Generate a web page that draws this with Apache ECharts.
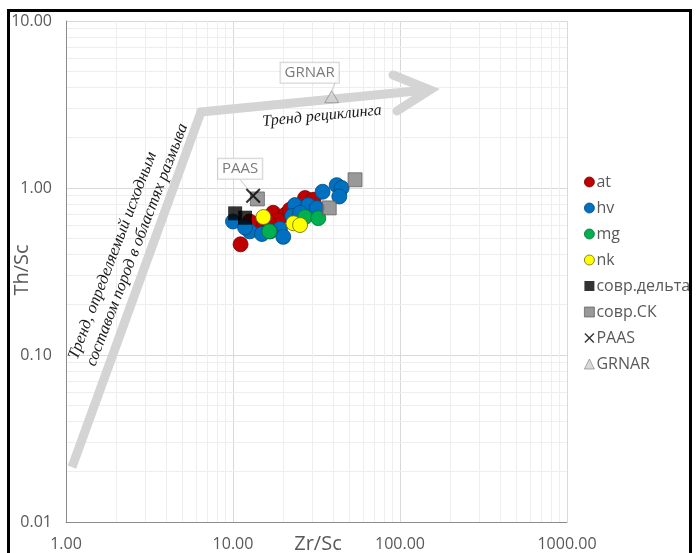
<!DOCTYPE html>
<html>
<head>
<meta charset="utf-8">
<script src="https://cdn.jsdelivr.net/npm/echarts@6/dist/echarts.min.js"></script>
<style>
  html, body { margin: 0; padding: 0; background: #fff; }
  #chart { width: 696px; height: 553px; }
</style>
</head>
<body>
<div id="chart"></div>
<script>
// Th/Sc vs Zr/Sc discrimination plot (log–log)

// Sample groups: [Zr/Sc, Th/Sc]
const atData = [
  [11.1, 0.46], [17.4, 0.71], [20.5, 0.69], [27.0, 0.87], [30.3, 0.85],
  [18.6, 0.64], [13.5, 0.60], [14.9, 0.64], [21.9, 0.74], [16.2, 0.63], [12.6, 0.63]
];
const hvData = [
  [10.0, 0.63], [12.6, 0.55], [14.9, 0.53], [19.1, 0.57], [20.0, 0.51],
  [23.5, 0.79], [28.2, 0.79], [31.7, 0.76], [34.4, 0.95], [41.8, 1.04],
  [44.7, 1.00], [43.3, 0.89], [11.8, 0.58], [16.7, 0.55], [22.6, 0.68], [25.2, 0.71]
];
const mgData = [[16.5, 0.55], [27.0, 0.67], [32.4, 0.66]];
const nkData = [[15.2, 0.67], [23.0, 0.615], [25.2, 0.60]];
const deltaData = [[10.3, 0.705], [11.8, 0.664]];
const skData = [[14.0, 0.86], [37.7, 0.76], [53.8, 1.12]];
const paasData = [[13.2, 0.90]];
const grnarData = [[39.0, 3.52]];

// Trend arrows (data coordinates)
const trendPath = [[1.086, 0.0213], [6.43, 2.85], [149.0, 3.87]];
const trendHead = [[90.8, 4.75], [151.3, 3.87], [95.9, 2.89]];

// Axis extents and decade ticks
const xTicks = [1, 10, 100, 1000];
const yTicks = [0.01, 0.1, 1, 10];

// Minor grid values (2..9 within each decade)
const xMinor = [];
for (let i = 0; i < xTicks.length - 1; i++) for (let k = 2; k <= 9; k++) xMinor.push(xTicks[i] * k);
const yMinor = [];
for (let i = 0; i < yTicks.length - 1; i++) for (let k = 2; k <= 9; k++) yMinor.push(+(yTicks[i] * k).toPrecision(3));

const FONT = '"Open Sans", sans-serif';
const GREY_TXT = '#595959';
const ARROW = '#d4d4d4';

const chart = echarts.init(document.getElementById('chart'), null, { renderer: 'canvas' });

function circleSeries(name, data, color, border) {
  return {
    name, type: 'scatter', data, symbol: 'circle', symbolSize: 15, z: 4,
    itemStyle: { color, borderColor: border, borderWidth: 0.8, opacity: 1 }
  };
}

const crossPath = 'path://M0,2 L2,0 L10,8 L18,0 L20,2 L12,10 L20,18 L18,20 L10,12 L2,20 L0,18 L8,10 Z';

chart.setOption({
  backgroundColor: '#fff',
  animation: false,
  textStyle: { fontFamily: FONT },
  grid: { left: 66, top: 21, width: 501, height: 501, containLabel: false, outerBoundsMode: 'none' },
  xAxis: {
    type: 'log', logBase: 10, min: xTicks[0], max: xTicks[xTicks.length - 1],
    axisLine: { show: true, lineStyle: { color: '#8c8c8c', width: 1 } },
    axisTick: { show: false },
    axisLabel: { fontSize: 16, color: GREY_TXT, margin: 14, formatter: v => (+v).toFixed(2) },
    splitLine: { show: true, lineStyle: { color: '#d9d9d9', width: 1 } }
  },
  yAxis: {
    type: 'log', logBase: 10, min: yTicks[0], max: yTicks[yTicks.length - 1],
    axisLine: { show: true, lineStyle: { color: '#8c8c8c', width: 1 } },
    axisTick: { show: false },
    axisLabel: { fontSize: 16, color: GREY_TXT, margin: 14, formatter: v => (+v).toFixed(2) },
    splitLine: { show: true, lineStyle: { color: '#d9d9d9', width: 1 } }
  },
  legend: {
    orient: 'vertical', left: 579, top: 166,
    itemWidth: 10, itemHeight: 10, itemGap: 4,
    itemStyle: { borderWidth: 0.8 },
    textStyle: { fontSize: 16, color: GREY_TXT, fontFamily: FONT, padding: [0, 0, 0, -3], lineHeight: 22 },
    data: ['at', 'hv', 'mg', 'nk', 'совр.дельта', 'совр.СК', 'PAAS', 'GRNAR']
  },
  series: [
    {
      // minor grid lines
      name: '_grid', type: 'scatter', data: [[1, 0.01]], symbolSize: 0, silent: true, z: 0,
      markLine: {
        silent: true, symbol: 'none', z: 0, animation: false,
        label: { show: false },
        lineStyle: { color: '#eeeeee', width: 1, type: 'solid' },
        data: xMinor.map(v => ({ xAxis: v })).concat(yMinor.map(v => ({ yAxis: v })))
      }
    },
    {
      name: '_trend', type: 'line', data: trendPath, symbol: 'none', silent: true, z: 1,
      lineStyle: { color: ARROW, width: 9, cap: 'butt', join: 'miter' }
    },
    {
      name: '_head', type: 'line', data: trendHead, symbol: 'none', silent: true, z: 1,
      lineStyle: { color: ARROW, width: 9, cap: 'round', join: 'miter' }
    },
    circleSeries('at', atData, '#c00000', '#7a0000'),
    circleSeries('hv', hvData, '#0070c0', '#004a80'),
    circleSeries('mg', mgData, '#00b050', '#007535'),
    circleSeries('nk', nkData, '#ffff00', '#6b6b00'),
    {
      name: 'совр.дельта', type: 'scatter', data: deltaData, symbol: 'rect', symbolSize: 14, z: 5,
      itemStyle: { color: '#000000' }
    },
    {
      name: 'совр.СК', type: 'scatter', data: skData, symbol: 'rect', symbolSize: 14, z: 5,
      itemStyle: { color: '#7f7f7f', borderColor: '#505050', borderWidth: 0.8 }
    },
    {
      name: 'PAAS', type: 'scatter', data: paasData, symbol: crossPath, symbolSize: 15, z: 6,
      itemStyle: { color: '#000000' },
      label: {
        show: true, formatter: 'PAAS', position: 'inside',
        fontSize: 15, color: GREY_TXT, fontFamily: FONT,
        backgroundColor: '#ffffff', borderColor: '#c8c8c8', borderWidth: 1, padding: [3, 4, 2, 4]
      },
      labelLayout: { dx: -13, dy: -27 },
      labelLine: { show: true, lineStyle: { color: '#c8c8c8', width: 1 } }
    },
    {
      name: 'GRNAR', type: 'scatter', data: grnarData, symbol: 'triangle', symbolSize: [14, 12], z: 6,
      itemStyle: { color: '#d0d0d0', borderColor: '#7f7f7f', borderWidth: 0.8 },
      label: {
        show: true, formatter: 'GRNAR', position: 'inside',
        fontSize: 15, color: GREY_TXT, fontFamily: FONT,
        backgroundColor: '#ffffff', borderColor: '#c8c8c8', borderWidth: 1, padding: [3, 4, 2, 4]
      },
      labelLayout: { dx: -22, dy: -24 },
      labelLine: { show: true, lineStyle: { color: '#c8c8c8', width: 1 } }
    }
  ],
  graphic: [
    {
      type: 'rect', silent: true, z: 100,
      shape: { x: 8.5, y: 10.5, width: 682, height: 600 },
      style: { fill: 'none', stroke: '#000', lineWidth: 3 }
    },
    {
      // y axis title
      type: 'text', silent: true, z: 50,
      x: 22, y: 270, rotation: Math.PI / 2,
      style: {
        text: 'Th/Sc', fontFamily: FONT, fontSize: 20, fill: GREY_TXT,
        align: 'center', verticalAlign: 'middle'
      }
    },
    {
      // x axis title
      type: 'text', silent: true, z: 50,
      x: 318, y: 544,
      style: {
        text: 'Zr/Sc', fontFamily: FONT, fontSize: 20, fill: GREY_TXT,
        align: 'center', verticalAlign: 'middle'
      }
    },
    {
      type: 'text', silent: true, z: 50,
      x: 322, y: 116, rotation: 5.5 * Math.PI / 180,
      style: {
        text: 'Тренд рециклинга', fontFamily: '"Liberation Serif", serif', fontStyle: 'italic',
        fontSize: 16, fill: '#1a1a1a', align: 'center', verticalAlign: 'middle'
      }
    },
    {
      type: 'text', silent: true, z: 50,
      x: 82, y: 362, rotation: 69 * Math.PI / 180,
      style: {
        text: 'Тренд, определяемый исходным\nсоставом пород в областях размыва',
        fontFamily: '"Liberation Serif", serif', fontStyle: 'italic',
        fontSize: 16.5, lineHeight: 19, fill: '#1a1a1a', align: 'left', verticalAlign: 'middle'
      }
    }
  ]
});
</script>
</body>
</html>
